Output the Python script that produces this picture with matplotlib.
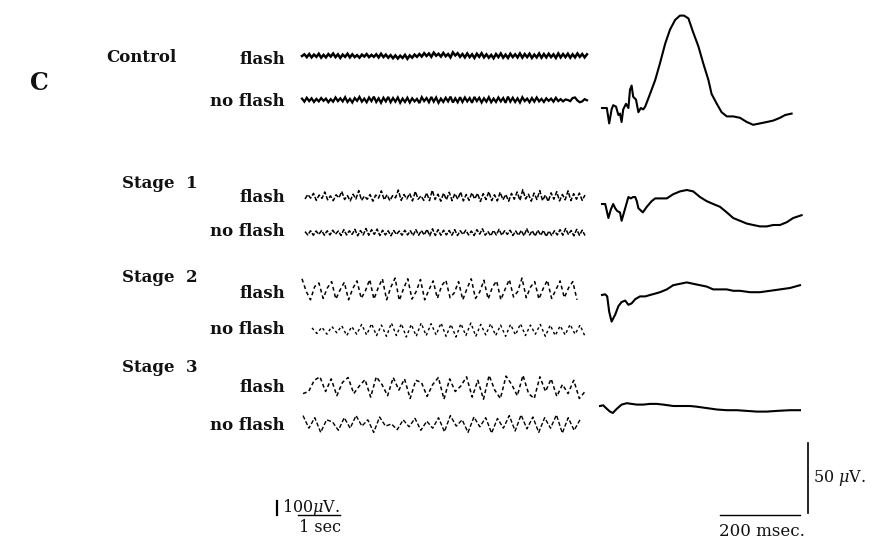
import numpy as np
import matplotlib
matplotlib.use("Agg")
import matplotlib.pyplot as plt

plt.rcParams['font.family'] = ['DejaVu Serif']
plt.rcParams['mathtext.fontset'] = 'dejavuserif'

W, H = 873, 543

# ---- ЭЭГ (мкВ), отсчёты через равные интервалы по времени ----
ctrl_flash = [
    0, 12, -8, 14, -10, 10, -6, 16, -12, 8,
    -10, 14, -4, 18, -8, 12, -14, 10, -6, 16,
    -10, 12, -8, 6, -12, 10, -4, 14, -8, 8,
    -6, 12, -10, 16, -8, 10, -12, 6, -16, 4,
    -18, 2, -14, 8, -20, 4, -12, 10, -6, 14,
    -4, 20, 0, 18, -6, 24, 2, 16, -4, 22,
    -2, 14, -10, 26, 4, 20, -6, 14, -10, 18,
    -8, 12, -14, 16, -6, 20, -10, 12, -12, 8,
    -16, 14, -8, 18, -12, 10, -14, 16, -8, 12,
    -10, 18, -12, 14, -8, 16, -14, 10, -10, 18,
    -12, 14, -10, 16, -8, 12, -14, 18, -10, 14,
    -8, 16, -12, 12, -10, 18, -6, 14, -10, 12]
ctrl_noflash = [
    10, -12, 16, -8, 12, -14, 8, -10, 14, -6,
    10, -16, 6, -12, 18, -8, 12, -10, 20, -14,
    8, -18, 14, -6, 22, -12, 10, -16, 18, -8,
    24, -14, 12, -20, 16, -10, 22, -16, 14, -12,
    18, -20, 10, -14, 16, -18, 12, -10, 8, -22,
    20, -8, 14, -16, 22, -12, 18, -20, 10, -14,
    16, -10, 24, -18, 12, -16, 20, -14, 18, -10,
    14, -20, 22, -8, 16, -18, 12, -12, 20, -16,
    10, -14, 18, -10, 14, -20, 24, -12, 16, -14,
    12, -18, 20, -8, 10, -16, 14, -12, 18, -10,
    8, -14, 12, -6, 10, -12, 16, -8, 6, -10,
    4, 0, -8, 14, 18, -4, -16, -10, 6, -2]
s1_flash = [
    -14, 18, -8, 26, -24, 14, -10, 36, -20, 8,
    -26, 16, -6, 40, -18, 10, -28, 20, -14, 46,
    -24, 6, -16, 18, -30, 14, -8, 44, -20, 16,
    -26, 10, -6, 50, -24, 18, -14, 26, -28, 40,
    -16, 8, -24, 30, -26, 48, -18, 20, -30, 28,
    -20, 34, -26, 24, -16, 36, -28, 18, -24, 30,
    -14, 26, -32, 24, -18, 38, -26, 16, -28, 34,
    -20, 18, -30, 26, -16, 36, -24, 52, -14, 20,
    -30, 28, -18, 46, -26, 14, -32, 30, -16, 38,
    -28, 18, -20, 44, -26, 24, -16, 28, -24, 14]
s1_noflash = [
    10, -14, 16, -16, 14, -10, 18, -16, 16, -14,
    20, -8, 14, -18, 24, -14, 16, -10, 26, -20,
    18, -14, 32, -16, 24, -10, 28, -18, 20, -14,
    16, -20, 18, -10, 14, -16, 20, -14, 16, -18,
    24, -16, 18, -14, 26, -20, 30, -18, 24, -16,
    20, -14, 18, -16, 24, -18, 16, -10, 20, -14,
    14, -18, 24, -8, 30, -16, 10, -20, 18, -14,
    26, -16, 16, -10, 20, -18, 14, -16, 18, -20,
    30, -14, 16, -22, 20, -16, 18, -24, 14, -18,
    16, -14, 24, -16, 32, -10, 18, -20, 26, -16,
    20, -18]
s2_flash = [
    80, -10, -70, 25, 50, -60, 15, 60, -65, 0, 55,
    -70, 10, 65, -60, -5, 75, -65, 15, 80, -70, 20,
    85, -75, 10, 80, -65, -10, 75, -70, 0, 65, -60,
    30, 70, -55, -20, 60, -70, 10, 80, -60, -15, 70,
    -65, 20, 65, -70, 5, 75, -50, -10, 85, -55, 20,
    60, -65, 10, 70, -60, 0, 65, -55, 15, 60, -70]
s2_noflash = [
    15, -25, 20, -30, 25, -20, 30, -40, 25, -30,
    40, -35, 45, -40, 35, -45, 50, -40, 45, -50,
    40, -45, 50, -40, 45, -35, 50, -45, 40, -50,
    45, -40, 50, -45, 40, -35, 45, -40, 35, -45,
    40, -35, 45, -40, 35, -30, 40, -45, 35, -40,
    30, -35, 40, -30, 35, -45]
s3_flash = [
    -40, -25, 55, 80, -25, 65, -55, 40, 75, -40,
    15, 60, -65, 80, 25, -55, 75, -15, 65, -75,
    55, 40, -60, 25, 75, -80, 65, -25, 15, 80,
    -65, 55, -80, 90, -15, -75, 85, 25, -55, 90,
    -40, -75, 80, -25, 65, -60, 25, -40, 55, -75,
    -25]
s3_noflash = [
    60, -30, 45, -60, 30, 15, -45, 45, -30, 60,
    -15, 30, -60, 50, -15, 0, -40, 30, -20, 40,
    -45, 20, -30, 45, -55, 60, -15, 30, -60, 50,
    -20, 45, -65, 40, -30, 60, -50, 65, -35, 50,
    -60, 45, -30, 65, -65, 45, -45, 30]

# ---- вызванные потенциалы: время (мс), амплитуда (мкВ) ----
ctrl_t = [0, 12, 18, 24, 28, 35, 41, 45, 49, 53, 60, 66, 70, 74, 78, 85, 91, 97,
          103, 108, 120, 133, 145, 158, 170, 183, 195, 205, 216, 228, 241, 253,
          266, 274, 287, 299, 312, 328, 345, 362, 378, 395, 412, 428, 445, 458, 474]
ctrl_v = [0, 0, -11, -1, 2, 1, -5, -4, -10, -1, 3, 0, 13, 16, 8, 6, -3, 0,
          -1, 1, 10, 20, 32, 46, 56, 63, 66, 66, 64, 54, 44, 32,
          20, 10, 3, -3, -6, -6, -7, -10, -12, -11, -10, -9, -7, -5, -4]
s1_t = [0, 8, 16, 22, 28, 33, 38, 45, 49, 53, 60, 66, 72, 78, 83, 87, 91, 102,
        112, 124, 133, 145, 162, 178, 195, 212, 228, 245, 262, 278, 295, 312,
        328, 345, 362, 378, 395, 412, 428, 445, 462, 478, 499]
s1_v = [0, 0, -10, -4, 0, -3, -5, -6, -12, -8, -1, 5, 4, 5, 5, 2, -3, -6,
        -2, 2, 4, 4, 4, 7, 9, 10, 9, 5, 2, 0, -2, -6,
        -10, -12, -14, -15, -16, -16, -15, -15, -13, -10, -8]
s2_t = [0, 8, 13, 18, 24, 33, 41, 49, 58, 66, 74, 83, 95, 108, 120, 133, 145,
        162, 178, 195, 212, 228, 245, 262, 278, 295, 312, 328, 345, 370, 395,
        420, 445, 470, 495]
s2_v = [0, 0.5, -1, -12, -19, -14, -8, -5, -4, -7, -6, -3, -1, -1, 0, 1, 2,
        4, 7, 8, 9, 8, 7, 6, 4, 4, 4, 3, 3, 2, 2,
        3, 4, 5, 7]
s3_t = [0, 8, 17, 25, 32, 42, 54, 67, 79, 92, 108, 125, 142, 158, 183, 208,
        225, 242, 267, 292, 317, 342, 367, 392, 417, 442, 475, 500]
s3_v = [0, 0.5, -2, -4, -5, -2, 1, 2, 1.5, 1, 1, 1.5, 1.5, 1, 0, 0,
        0, -0.5, -1.5, -2.5, -3, -3, -3.5, -4, -4, -3.5, -3, -3]

fig = plt.figure(figsize=(W / 100, H / 100), dpi=100)
fig.patch.set_facecolor('white')

EEG_PX_S = 42.0      # пикселей на 1 с
EEG_PX_UV = 0.14     # пикселей на 1 мкВ
EP_PX_MS = 0.4       # пикселей на 1 мс
EP_PX_UV = 1.4       # пикселей на 1 мкВ


# оси, у которых точка (0, 0) попадает в пиксель (x0, y0)
def panel(x0, y0, xmax, px_x, px_y, ylo, yhi):
    bottom = y0 - ylo * px_y
    ax = fig.add_axes([x0 / W, 1 - bottom / H, xmax * px_x / W, (yhi - ylo) * px_y / H])
    ax.set_xlim(0, xmax)
    ax.set_ylim(ylo, yhi)
    ax.axis('off')
    return ax


def eeg(vals, x0, x1, y0, lw, ls):
    dur = (x1 - x0) / EEG_PX_S
    ax = panel(x0, y0, dur, EEG_PX_S, EEG_PX_UV, -150, 150)
    t = np.linspace(0, dur, len(vals))
    ax.plot(t, vals, color='black', lw=lw, ls=ls, solid_joinstyle='miter', clip_on=False)


def ep(t, v, x0, y0):
    ax = panel(x0, y0, 520, EP_PX_MS, EP_PX_UV, -25, 75)
    ax.plot(t, v, color='black', lw=1.5, clip_on=False)


eeg(ctrl_flash, 302, 587, 56, 1.8, '-')
eeg(ctrl_noflash, 302, 587, 100, 1.6, '-')
eeg(s1_flash, 305, 585, 197, 1.1, (0, (3, 1.2)))
eeg(s1_noflash, 305, 585, 233, 1.1, (0, (3, 1)))
eeg(s2_flash, 302, 577, 290, 1.1, (0, (2.5, 2)))
eeg(s2_noflash, 312, 585, 330, 1.0, (0, (2, 2)))
eeg(s3_flash, 303, 585, 388, 1.1, (0, (2.5, 1.8)))
eeg(s3_noflash, 303, 580, 424, 1.0, (0, (3, 1.5)))

ep(ctrl_t, ctrl_v, 602, 108)
ep(s1_t, s1_v, 602, 204)
ep(s2_t, s2_v, 602, 295)
ep(s3_t, s3_v, 600, 406)

# масштабные отрезки
sc = panel(298, 515, 1.0, EEG_PX_S, EEG_PX_UV, 0, 100)
sc.plot([0, 1], [0, 0], color='black', lw=1.0, clip_on=False)
sc.plot([-0.5, -0.5], [0, 100], color='black', lw=1.6, clip_on=False)

sc2 = panel(720, 515, 200, EP_PX_MS, EP_PX_UV, 0, 55)
sc2.plot([0, 200], [0, 0], color='black', lw=1.0, clip_on=False)
sc2.plot([220, 220], [1.5, 51.5], color='black', lw=1.2, clip_on=False)

# подписи
def txt(x, y, s, **kw):
    kw.setdefault('fontsize', 12)
    kw.setdefault('fontweight', 'bold')
    fig.text(x / W, 1 - y / H, s, va='center', color='#111111', **kw)

txt(30, 83, 'C', fontsize=17)
txt(106, 57, 'Control')
txt(122, 183, 'Stage  1')
txt(122, 277, 'Stage  2')
txt(122, 368, 'Stage  3')
for y, s in [(59, 'flash'), (101, 'no flash'), (197, 'flash'), (232, 'no flash'),
             (293, 'flash'), (330, 'no flash'), (388, 'flash'), (425, 'no flash')]:
    txt(285, y, s, ha='right')

txt(282, 507, '100$\\mu$V.', fontsize=11.5, fontweight='normal')
txt(299, 527, '1 sec', fontsize=11.5, fontweight='normal')
txt(813, 478, '50 $\\mu$V.', fontsize=11.5, fontweight='normal')
txt(719, 531, '200 msec.', fontsize=12, fontweight='normal')

fig.savefig('out.png', dpi=100, facecolor='white')
